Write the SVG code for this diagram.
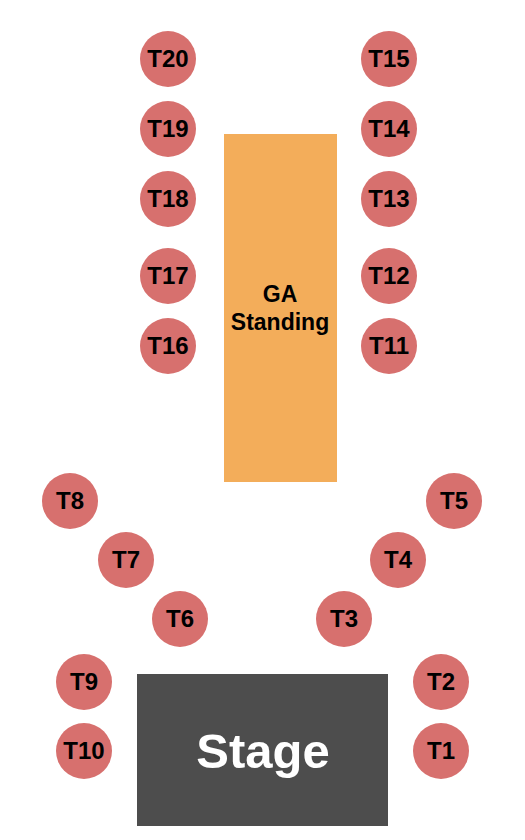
<svg xmlns="http://www.w3.org/2000/svg" width="525" height="840" viewBox="0 0 525 840">
<style>
.t{fill:#D7706E}
.l{font-family:"Liberation Sans",Arial,sans-serif;font-weight:bold;font-size:24px;fill:#000;text-anchor:middle}
.ga{font-family:"Liberation Sans",Arial,sans-serif;font-weight:bold;font-size:23px;fill:#000;text-anchor:middle}
.st{font-family:"Liberation Sans",Arial,sans-serif;font-weight:bold;font-size:49px;fill:#fff;text-anchor:middle}
</style>
<rect width="525" height="840" fill="#fff"/>
<g id="ga"><rect x="224" y="134" width="113" height="348" fill="#F3AD5A"/><text class="ga" x="280" y="302">GA</text><text class="ga" x="280" y="330">Standing</text></g>
<g id="stage"><rect x="137" y="674" width="251" height="152" fill="#4D4D4D"/><text class="st" x="263" y="768">Stage</text></g>
<g id="T20"><circle class="t" cx="168" cy="59" r="28"/><text class="l" x="168" y="67">T20</text></g>
<g id="T19"><circle class="t" cx="168" cy="129" r="28"/><text class="l" x="168" y="137">T19</text></g>
<g id="T18"><circle class="t" cx="168" cy="199" r="28"/><text class="l" x="168" y="207">T18</text></g>
<g id="T17"><circle class="t" cx="168" cy="276" r="28"/><text class="l" x="168" y="284">T17</text></g>
<g id="T16"><circle class="t" cx="168" cy="346" r="28"/><text class="l" x="168" y="354">T16</text></g>
<g id="T15"><circle class="t" cx="389" cy="59" r="28"/><text class="l" x="389" y="67">T15</text></g>
<g id="T14"><circle class="t" cx="389" cy="129" r="28"/><text class="l" x="389" y="137">T14</text></g>
<g id="T13"><circle class="t" cx="389" cy="199" r="28"/><text class="l" x="389" y="207">T13</text></g>
<g id="T12"><circle class="t" cx="389" cy="276" r="28"/><text class="l" x="389" y="284">T12</text></g>
<g id="T11"><circle class="t" cx="389" cy="346" r="28"/><text class="l" x="389" y="354">T11</text></g>
<g id="T8"><circle class="t" cx="70" cy="501" r="28"/><text class="l" x="70" y="509">T8</text></g>
<g id="T7"><circle class="t" cx="126" cy="560" r="28"/><text class="l" x="126" y="568">T7</text></g>
<g id="T6"><circle class="t" cx="180" cy="619" r="28"/><text class="l" x="180" y="627">T6</text></g>
<g id="T9"><circle class="t" cx="84" cy="682" r="28"/><text class="l" x="84" y="690">T9</text></g>
<g id="T10"><circle class="t" cx="84" cy="751" r="28"/><text class="l" x="84" y="759">T10</text></g>
<g id="T5"><circle class="t" cx="454" cy="501" r="28"/><text class="l" x="454" y="509">T5</text></g>
<g id="T4"><circle class="t" cx="398" cy="560" r="28"/><text class="l" x="398" y="568">T4</text></g>
<g id="T3"><circle class="t" cx="344" cy="619" r="28"/><text class="l" x="344" y="627">T3</text></g>
<g id="T2"><circle class="t" cx="441" cy="682" r="28"/><text class="l" x="441" y="690">T2</text></g>
<g id="T1"><circle class="t" cx="441" cy="751" r="28"/><text class="l" x="441" y="759">T1</text></g>
<g id="connectors"/>
</svg>
